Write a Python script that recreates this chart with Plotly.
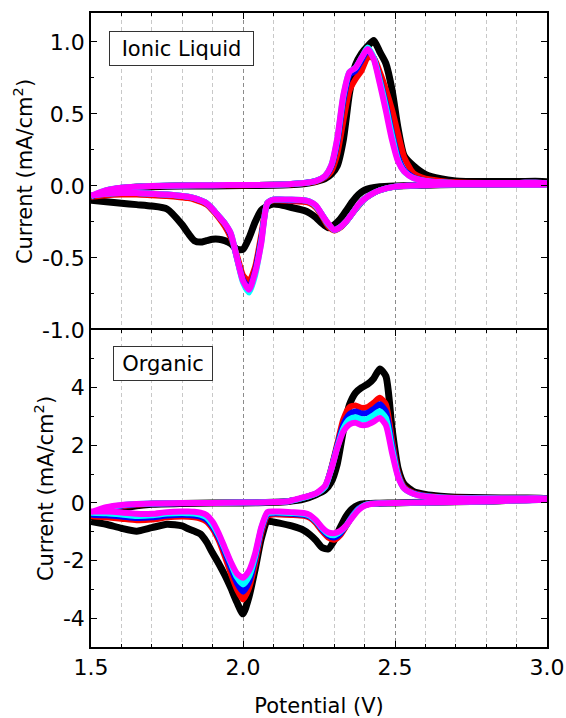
import plotly.graph_objects as go
from plotly.subplots import make_subplots

# ---------------- data ----------------
X_FWD = [1.50, 1.55, 1.60, 1.65, 1.70, 1.80, 1.90, 2.00, 2.10, 2.15, 2.20, 2.24, 2.27, 2.29, 2.31,
         2.33, 2.35, 2.37, 2.39, 2.41, 2.43, 2.45, 2.47, 2.49, 2.51, 2.53, 2.56, 2.60, 2.65, 2.70,
         2.80, 2.90, 3.00]
X_REV = [3.00, 2.90, 2.80, 2.70, 2.60, 2.50, 2.45, 2.42, 2.40, 2.38, 2.36, 2.34, 2.32, 2.30, 2.28,
         2.26, 2.24, 2.22, 2.20, 2.16, 2.12, 2.10, 2.08, 2.06, 2.04, 2.02, 2.00, 1.98, 1.96, 1.94,
         1.92, 1.90, 1.88, 1.86, 1.84, 1.82, 1.80, 1.75, 1.70, 1.65, 1.60, 1.55, 1.50]

SERIES = ["black", "red", "blue", "cyan", "magenta"]
COLORS = ["#000000", "#FF0000", "#0000FF", "#00FFFF", "#FF00FF"]

# Ionic liquid, forward (anodic) scan
IL_FWD_BLACK = [-0.09, -0.045, -0.02, -0.01, -0.005, 0.0, 0.0, 0.002, 0.005, 0.008, 0.015, 0.03, 0.05, 0.08, 0.14,
                0.32, 0.64, 0.84, 0.92, 0.97, 1.01, 0.93, 0.85, 0.67, 0.40, 0.21, 0.14, 0.08, 0.05, 0.035,
                0.03, 0.03, 0.03]
IL_FWD_RED = [-0.08, -0.035, -0.015, -0.006, -0.002, 0.002, 0.004, 0.005, 0.008, 0.01, 0.018, 0.03, 0.06, 0.10, 0.22,
              0.45, 0.66, 0.74, 0.80, 0.89, 0.89, 0.79, 0.67, 0.53, 0.36, 0.20, 0.09, 0.05, 0.035, 0.025,
              0.02, 0.02, 0.02]
IL_FWD_BLUE = [-0.075, -0.032, -0.013, -0.005, -0.001, 0.003, 0.005, 0.006, 0.008, 0.012, 0.02, 0.035, 0.065, 0.13, 0.30,
               0.59, 0.77, 0.80, 0.87, 0.94, 0.89, 0.74, 0.57, 0.37, 0.20, 0.11, 0.06, 0.035, 0.025, 0.02,
               0.02, 0.02, 0.02]
IL_FWD_CYAN = [-0.072, -0.03, -0.012, -0.005, 0.0, 0.003, 0.005, 0.006, 0.008, 0.012, 0.02, 0.035, 0.07, 0.14, 0.32,
               0.62, 0.79, 0.82, 0.89, 0.96, 0.89, 0.73, 0.55, 0.35, 0.18, 0.10, 0.055, 0.035, 0.025, 0.02,
               0.02, 0.02, 0.02]
IL_FWD_MAGENTA = [-0.07, -0.03, -0.012, -0.005, 0.0, 0.003, 0.005, 0.006, 0.008, 0.012, 0.02, 0.035, 0.07, 0.14, 0.33,
                  0.63, 0.79, 0.82, 0.89, 0.95, 0.88, 0.71, 0.52, 0.32, 0.17, 0.10, 0.055, 0.035, 0.025, 0.02,
                  0.02, 0.02, 0.02]

# Ionic liquid, reverse (cathodic) scan
IL_REV_BLACK = [0.02, 0.015, 0.01, 0.01, 0.005, 0.0,
                -0.005, -0.015, -0.03, -0.06, -0.11, -0.17, -0.23, -0.27, -0.29, -0.26, -0.22, -0.19, -0.17,
                -0.15, -0.13, -0.125, -0.14, -0.17, -0.25, -0.36, -0.44,
                -0.44, -0.40, -0.38, -0.37, -0.37, -0.38, -0.39, -0.38, -0.33, -0.27,
                -0.16, -0.14, -0.13, -0.12, -0.11, -0.10]
IL_REV_RED = [0.01, 0.01, 0.01, 0.01, 0.005, -0.005,
              -0.03, -0.06, -0.09, -0.14, -0.19, -0.245, -0.29, -0.31, -0.28, -0.21, -0.15, -0.12, -0.11,
              -0.105, -0.10, -0.10, -0.12, -0.34, -0.56, -0.66, -0.62,
              -0.48, -0.36, -0.28, -0.22, -0.17, -0.13, -0.11, -0.095, -0.085, -0.08,
              -0.07, -0.065, -0.06, -0.06, -0.065, -0.075]
IL_REV_BLUE = [0.01, 0.01, 0.01, 0.01, 0.005, -0.005,
               -0.03, -0.06, -0.09, -0.135, -0.19, -0.245, -0.285, -0.305, -0.265, -0.20, -0.14, -0.11, -0.10,
               -0.10, -0.095, -0.095, -0.12, -0.37, -0.59, -0.71, -0.65,
               -0.50, -0.34, -0.26, -0.21, -0.16, -0.12, -0.10, -0.085, -0.075, -0.07,
               -0.06, -0.055, -0.05, -0.05, -0.055, -0.065]
IL_REV_CYAN = [0.01, 0.01, 0.01, 0.01, 0.005, -0.005,
               -0.03, -0.06, -0.09, -0.135, -0.19, -0.245, -0.285, -0.305, -0.265, -0.20, -0.14, -0.11, -0.10,
               -0.095, -0.095, -0.095, -0.12, -0.39, -0.62, -0.74, -0.67,
               -0.50, -0.33, -0.26, -0.21, -0.16, -0.12, -0.10, -0.085, -0.075, -0.07,
               -0.06, -0.055, -0.05, -0.05, -0.055, -0.065]
IL_REV_MAGENTA = [0.01, 0.01, 0.01, 0.01, 0.005, -0.005,
                  -0.03, -0.06, -0.09, -0.13, -0.19, -0.245, -0.285, -0.305, -0.26, -0.20, -0.135, -0.11, -0.10,
                  -0.095, -0.095, -0.095, -0.12, -0.40, -0.60, -0.72, -0.66,
                  -0.50, -0.33, -0.26, -0.21, -0.16, -0.12, -0.10, -0.085, -0.075, -0.07,
                  -0.06, -0.055, -0.05, -0.05, -0.055, -0.065]

# Organic, forward (anodic) scan
ORG_FWD_BLACK = [-0.58, -0.35, -0.2, -0.1, -0.05, -0.02, 0.0, 0.0, 0.02, 0.05, 0.13, 0.28, 0.45, 0.72, 1.35,
                 2.5, 3.4, 3.82, 4.0, 4.12, 4.32, 4.65, 4.4, 2.6, 1.2, 0.65, 0.4, 0.29, 0.23, 0.2,
                 0.18, 0.17, 0.16]
ORG_FWD_RED = [-0.45, -0.25, -0.12, -0.06, -0.03, -0.01, 0.0, 0.01, 0.03, 0.06, 0.18, 0.32, 0.55, 1.2, 2.05,
               2.9, 3.32, 3.38, 3.3, 3.33, 3.48, 3.65, 3.42, 2.2, 1.05, 0.55, 0.35, 0.25, 0.2, 0.18,
               0.16, 0.15, 0.15]
ORG_FWD_BLUE = [-0.4, -0.22, -0.1, -0.05, -0.025, -0.01, 0.0, 0.01, 0.03, 0.06, 0.18, 0.32, 0.55, 1.18, 1.98,
                2.72, 3.08, 3.17, 3.1, 3.13, 3.26, 3.42, 3.18, 2.05, 0.98, 0.52, 0.33, 0.24, 0.19, 0.17,
                0.16, 0.15, 0.15]
ORG_FWD_CYAN = [-0.36, -0.18, -0.08, -0.04, -0.02, -0.005, 0.0, 0.01, 0.03, 0.06, 0.18, 0.32, 0.56, 1.15, 1.92,
                2.58, 2.9, 2.97, 2.9, 2.92, 3.05, 3.18, 2.95, 1.9, 0.95, 0.5, 0.32, 0.23, 0.19, 0.17,
                0.16, 0.15, 0.15]
ORG_FWD_MAGENTA = [-0.32, -0.15, -0.07, -0.04, -0.02, 0.0, 0.0, 0.01, 0.03, 0.06, 0.2, 0.33, 0.6, 1.15, 1.9,
                   2.48, 2.72, 2.78, 2.7, 2.72, 2.82, 2.95, 2.7, 1.75, 0.9, 0.5, 0.32, 0.22, 0.18, 0.16,
                   0.15, 0.15, 0.15]

# Organic, reverse (cathodic) scan
ORG_REV_BLACK = [0.15, 0.1, 0.06, 0.04, 0.02, 0.0,
                 -0.01, -0.02, -0.03, -0.07, -0.2, -0.45, -0.85, -1.3, -1.6, -1.55, -1.3, -1.1, -0.95,
                 -0.8, -0.7, -0.66, -0.64, -1.25, -2.3, -3.25, -3.85,
                 -3.45, -2.95, -2.5, -2.1, -1.74, -1.35, -1.08, -0.98, -0.9, -0.8,
                 -0.74, -0.86, -0.98, -0.88, -0.74, -0.64]
ORG_REV_RED = [0.13, 0.09, 0.05, 0.03, 0.015, 0.0,
               -0.01, -0.03, -0.08, -0.2, -0.45, -0.8, -1.12, -1.28, -1.2, -0.98, -0.7, -0.52, -0.45,
               -0.42, -0.4, -0.4, -0.45, -1.05, -2.1, -2.95, -3.35,
               -3.0, -2.45, -1.85, -1.3, -0.9, -0.65, -0.55, -0.5, -0.48, -0.47,
               -0.5, -0.58, -0.6, -0.55, -0.5, -0.45]
ORG_REV_BLUE = [0.13, 0.09, 0.05, 0.03, 0.015, 0.0,
                -0.01, -0.03, -0.08, -0.2, -0.45, -0.78, -1.06, -1.2, -1.13, -0.92, -0.65, -0.48, -0.41,
                -0.38, -0.36, -0.36, -0.4, -0.95, -1.95, -2.75, -3.08,
                -2.78, -2.25, -1.7, -1.2, -0.82, -0.58, -0.48, -0.44, -0.42, -0.41,
                -0.44, -0.5, -0.52, -0.47, -0.43, -0.4]
ORG_REV_CYAN = [0.12, 0.08, 0.05, 0.03, 0.01, 0.0,
                -0.01, -0.03, -0.08, -0.22, -0.47, -0.78, -1.0, -1.12, -1.07, -0.88, -0.62, -0.45, -0.38,
                -0.35, -0.33, -0.33, -0.36, -0.88, -1.85, -2.55, -2.83,
                -2.58, -2.1, -1.6, -1.12, -0.75, -0.5, -0.41, -0.37, -0.36, -0.35,
                -0.37, -0.43, -0.45, -0.4, -0.36, -0.34]
ORG_REV_MAGENTA = [0.12, 0.08, 0.05, 0.03, 0.01, 0.0,
                   -0.01, -0.04, -0.1, -0.25, -0.5, -0.78, -0.97, -1.05, -1.02, -0.85, -0.6, -0.42, -0.35,
                   -0.32, -0.3, -0.3, -0.32, -0.85, -1.75, -2.35, -2.6,
                   -2.45, -2.05, -1.55, -1.05, -0.65, -0.42, -0.34, -0.31, -0.3, -0.3,
                   -0.32, -0.38, -0.38, -0.33, -0.3, -0.3]

IL_FWD = [IL_FWD_BLACK, IL_FWD_RED, IL_FWD_BLUE, IL_FWD_CYAN, IL_FWD_MAGENTA]
IL_REV = [IL_REV_BLACK, IL_REV_RED, IL_REV_BLUE, IL_REV_CYAN, IL_REV_MAGENTA]
ORG_FWD = [ORG_FWD_BLACK, ORG_FWD_RED, ORG_FWD_BLUE, ORG_FWD_CYAN, ORG_FWD_MAGENTA]
ORG_REV = [ORG_REV_BLACK, ORG_REV_RED, ORG_REV_BLUE, ORG_REV_CYAN, ORG_REV_MAGENTA]
WIDTHS = [7, 6, 6, 6, 6]

X_TICKS = [1.5, 2.0, 2.5, 3.0]
X_TICKTEXT = ["1.5", "2.0", "2.5", "3.0"]
IL_Y_TICKS = [-1.0, -0.5, 0.0, 0.5, 1.0]
IL_Y_TICKTEXT = ["-1.0", "-0.5", "0.0", "0.5", "1.0"]
ORG_Y_TICKS = [-4, -2, 0, 2, 4]
ORG_Y_TICKTEXT = ["-4", "-2", "0", "2", "4"]

FONT = "DejaVu Sans, Arial, sans-serif"
TICK_SIZE = 22
TITLE_SIZE = 21

# ---------------- figure ----------------
fig = make_subplots(rows=2, cols=1, vertical_spacing=0)

for i, name in enumerate(SERIES):
    fig.add_trace(go.Scatter(x=X_FWD + X_REV, y=IL_FWD[i] + IL_REV[i], mode="lines",
                             line=dict(color=COLORS[i], width=WIDTHS[i], shape="spline", smoothing=0.6),
                             name=name, showlegend=False), row=1, col=1)
for i, name in enumerate(SERIES):
    fig.add_trace(go.Scatter(x=X_FWD + X_REV, y=ORG_FWD[i] + ORG_REV[i], mode="lines",
                             line=dict(color=COLORS[i], width=WIDTHS[i], shape="spline", smoothing=0.6),
                             name=name, showlegend=False), row=2, col=1)

grid_common = dict(
    range=[1.5, 3.0], tickvals=X_TICKS, ticktext=X_TICKTEXT, ticks="inside", ticklen=6, tickwidth=1.3,
    tickcolor="black", showline=True, linecolor="black", linewidth=1.5, zeroline=False, automargin=False,
    showgrid=True, gridcolor="#8c8c8c", gridwidth=1, griddash="4px,3px",
    minor=dict(dtick=0.1, tick0=1.5, ticks="inside", ticklen=3, tickwidth=1, tickcolor="black",
               showgrid=True, gridcolor="#c8c8c8", gridwidth=1, griddash="4px,3px"),
)

fig.update_xaxes(**grid_common, side="top", mirror=False, showticklabels=False, row=1, col=1)
fig.update_xaxes(**grid_common, mirror="allticks",
                 tickfont=dict(family=FONT, size=TICK_SIZE, color="black"),
                 title=dict(text="Potential (V)", font=dict(family=FONT, size=TITLE_SIZE, color="black"),
                            standoff=22),
                 row=2, col=1)

yax_common = dict(ticks="inside", ticklen=6, tickwidth=1.3, tickcolor="black",
                  showline=True, linecolor="black", linewidth=1.5, mirror="allticks",
                  zeroline=False, showgrid=False, automargin=False,
                  tickfont=dict(family=FONT, size=TICK_SIZE, color="black"))
fig.update_yaxes(**yax_common, range=[-1.0, 1.2], tickvals=IL_Y_TICKS, ticktext=IL_Y_TICKTEXT,
                 minor=dict(dtick=0.25, tick0=0, ticks="inside", ticklen=3, tickcolor="black"),
                 title=dict(text="Current (mA/cm<sup>2</sup>)",
                            font=dict(family=FONT, size=TITLE_SIZE, color="black"), standoff=4),
                 domain=[0.5, 1.0], row=1, col=1)
fig.update_yaxes(**yax_common, range=[-5, 6], tickvals=ORG_Y_TICKS, ticktext=ORG_Y_TICKTEXT,
                 minor=dict(dtick=1, tick0=0, ticks="inside", ticklen=3, tickcolor="black"),
                 title=dict(text="Current (mA/cm<sup>2</sup>)",
                            font=dict(family=FONT, size=TITLE_SIZE, color="black"), standoff=4),
                 domain=[0.0, 0.5], row=2, col=1)

fig.add_annotation(x=1.797, y=0.951, xref="x", yref="y", text="Ionic Liquid", showarrow=False,
                   font=dict(family=FONT, size=TITLE_SIZE, color="black"), bgcolor="white",
                   bordercolor="#333333", borderwidth=1, borderpad=3, width=137, height=27)
fig.add_annotation(x=1.738, y=4.84, xref="x2", yref="y2", text="Organic", showarrow=False,
                   font=dict(family=FONT, size=TITLE_SIZE, color="black"), bgcolor="white",
                   bordercolor="#333333", borderwidth=1, borderpad=3, width=92, height=27)

fig.update_layout(width=566, height=718, margin=dict(l=91, r=19, t=13, b=71),
                  plot_bgcolor="white", paper_bgcolor="white",
                  font=dict(family=FONT, color="black"))

fig.write_html("out.html")
